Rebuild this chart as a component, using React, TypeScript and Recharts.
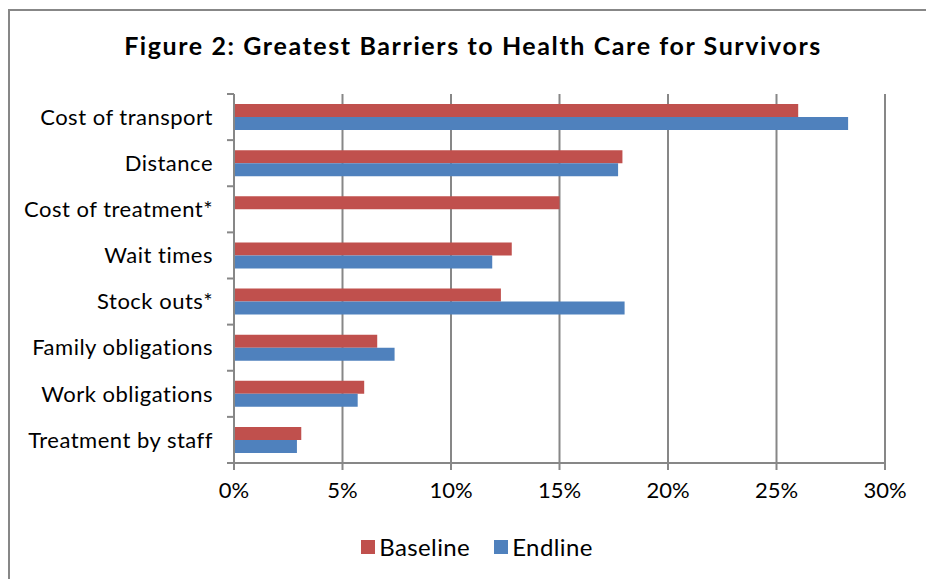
import React from "react";
import {
  BarChart,
  Bar,
  XAxis,
  YAxis,
  CartesianGrid,
  Legend,
} from "recharts";

const barriers = [
  "Cost of transport",
  "Distance",
  "Cost of treatment*",
  "Wait times",
  "Stock outs*",
  "Family obligations",
  "Work obligations",
  "Treatment by staff",
];
const baseline = [26.0, 17.9, 15.0, 12.8, 12.3, 6.6, 6.0, 3.1];
const endline = [28.3, 17.7, null, 11.9, 18.0, 7.4, 5.7, 2.9];
const pctTicks = [0, 5, 10, 15, 20, 25, 30];

const data = barriers.map((name, i) => ({
  name,
  baseline: baseline[i],
  endline: endline[i],
}));

const FONT = "Lato, 'Open Sans', sans-serif";
const GRID = "#878787";
const RED = "#C0504D";
const BLUE = "#4F81BD";

const W = 926;
const H = 579;
const PLOT_TOP = 94;
const PLOT_BOTTOM = 463;
const Y_WIDTH = 234;
const TICK_SIZE = 7;
const TICK_MARGIN = 14;
const BAND = (PLOT_BOTTOM - PLOT_TOP) / barriers.length;

// category label plus the tick marks that sit between categories
const CategoryTick = (props: any) => {
  const { x, y, payload, index } = props;
  const axisX = x + TICK_MARGIN + TICK_SIZE;
  const isLast = index === barriers.length - 1;
  return (
    <g>
      <line x1={axisX - TICK_SIZE} x2={axisX} y1={y - BAND / 2} y2={y - BAND / 2} stroke={GRID} strokeWidth={2} />
      {isLast && (
        <line x1={axisX - TICK_SIZE} x2={axisX} y1={y + BAND / 2} y2={y + BAND / 2} stroke={GRID} strokeWidth={2} />
      )}
      <text
        x={x}
        y={y}
        dy="0.35em"
        textAnchor="end"
        fill="#000"
        fontSize={22}
        letterSpacing={0.5}
        fontFamily={FONT}
      >
        {payload.value}
      </text>
    </g>
  );
};

const LegendContent = () => (
  <div
    style={{
      display: "flex",
      justifyContent: "center",
      alignItems: "center",
      gap: 24,
      fontFamily: FONT,
      fontSize: 24,
      letterSpacing: 0.4,
      color: "#000",
    }}
  >
    {[
      { label: "Baseline", color: RED },
      { label: "Endline", color: BLUE },
    ].map((s) => (
      <div key={s.label} style={{ display: "flex", alignItems: "center", gap: 4 }}>
        <span style={{ width: 14, height: 14, background: s.color, display: "inline-block" }} />
        <span>{s.label}</span>
      </div>
    ))}
  </div>
);

export default function App() {
  return (
    <div style={{ position: "fixed", left: 0, top: 0, width: W, height: H, overflow: "hidden", background: "#fff" }}>
      <style>{"html, body { margin: 0; overflow: hidden; }"}</style>
      {/* chart frame: only its top and left edges fall inside the view */}
      <div
        style={{
          position: "absolute",
          left: 8,
          top: 9,
          width: W + 100,
          height: H + 100,
          borderTop: `2px solid ${GRID}`,
          borderLeft: `2px solid ${GRID}`,
        }}
      />
      <div
        style={{
          position: "absolute",
          left: 0,
          width: 946,
          top: 30,
          textAlign: "center",
          fontFamily: FONT,
          fontWeight: 700,
          fontSize: 25,
          letterSpacing: 1.6,
          color: "#000",
        }}
      >
        Figure 2: Greatest Barriers to Health Care for Survivors
      </div>
      <BarChart
        width={W}
        height={H}
        data={data}
        layout="vertical"
        margin={{ top: PLOT_TOP, right: W - 885, left: 0, bottom: 10 }}
        barSize={13}
        barGap={0}
      >
        <CartesianGrid horizontal={false} stroke={GRID} strokeWidth={2} />
        <XAxis
          type="number"
          domain={[0, 30]}
          ticks={pctTicks}
          tickFormatter={(v: number) => `${v}%`}
          axisLine={{ stroke: GRID, strokeWidth: 2 }}
          tickLine={{ stroke: GRID, strokeWidth: 2 }}
          tickSize={TICK_SIZE}
          tickMargin={12}
          height={60}
          tick={{ fill: "#000", fontSize: 22, fontFamily: FONT }}
        />
        <YAxis
          type="category"
          dataKey="name"
          width={Y_WIDTH}
          axisLine={{ stroke: GRID, strokeWidth: 2 }}
          tickLine={false}
          tickSize={TICK_SIZE}
          tickMargin={TICK_MARGIN}
          interval={0}
          tick={<CategoryTick />}
        />
        <Legend
          verticalAlign="bottom"
          height={46}
          content={<LegendContent />}
          wrapperStyle={{ left: 0, width: 926, bottom: 1, paddingLeft: 14 }}
        />
        <Bar dataKey="baseline" name="Baseline" fill={RED} isAnimationActive={false} />
        <Bar dataKey="endline" name="Endline" fill={BLUE} isAnimationActive={false} />
      </BarChart>
    </div>
  );
}
